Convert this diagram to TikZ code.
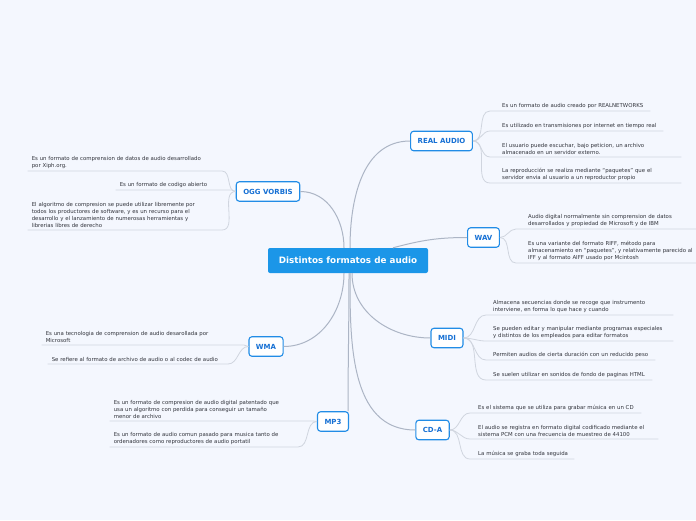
\documentclass[tikz,border=0pt]{standalone}
\usepackage{fontspec}
\setmainfont{DejaVu Sans}
\usepackage{tikz}
\usetikzlibrary{positioning,calc}
\definecolor{mmbg}{RGB}{244,247,254}
\definecolor{mmblue}{RGB}{27,150,232}
\definecolor{mmborder}{RGB}{33,140,230}
\definecolor{mmtext}{RGB}{22,112,212}
\definecolor{mmline}{RGB}{172,181,197}
\definecolor{mmleafline}{RGB}{208,213,223}
\definecolor{mmgray}{RGB}{50,52,60}
\tikzset{
  root/.style={rectangle,rounded corners=2pt,fill=mmblue,text=white,
    font=\fontsize{8.8}{9}\selectfont\bfseries,minimum width=160pt,minimum height=25pt},
  topic/.style={rectangle,rounded corners=3pt,draw=mmborder,line width=1.1pt,fill=white,
    text=mmtext,font=\fontsize{7}{7}\selectfont\bfseries,minimum height=19.5pt,inner xsep=7pt},
  leaf/.style={font=\fontsize{5.4}{7}\selectfont,text=mmgray,align=left,
    inner xsep=4pt,inner ysep=2.6pt},
  rleaf/.style={leaf,anchor=south west},
  lleaf/.style={leaf,anchor=south east},
  branch/.style={draw=mmline,line width=1pt},
  twig/.style={draw=mmleafline,line width=0.8pt},
}
\begin{document}
\begin{tikzpicture}[x=1pt,y=-1pt]
  \fill[mmbg] (0,0) rectangle (696,520);
  \useasboundingbox (0,0) rectangle (696,520);
  % centre and main topics
  \node[root] (root) at (348,260.5) {Distintos formatos de audio};
  \node[topic] (ra) at (441.5,141) {REAL AUDIO};
  \node[topic] (ogg) at (268,191.5) {OGG VORBIS};
  \node[topic] (wav) at (483.5,237.5) {WAV};
  \node[topic] (midi) at (447,338) {MIDI};
  \node[topic] (wma) at (266,346.5) {WMA};
  \node[topic] (mp3) at (333,421.5) {MP3};
  \node[topic] (cda) at (432.5,430) {CD-A};
  \draw[branch] ([xshift=2pt]root.north) to[out=90,in=180] (ra.west);
  \draw[branch] ([xshift=-4pt]root.north) to[out=90,in=0] (ogg.east);
  \draw[branch] ([xshift=45pt]root.north) to[out=15,in=180] (wav.west);
  \draw[branch] ([xshift=-4pt]root.south) to[out=-90,in=0] (wma.east);
  \draw[branch] ([xshift=1pt]root.south) to[out=-90,in=90] ([xshift=-1pt]mp3.north east);
  \draw[branch] ([xshift=4pt]root.south) to[out=-90,in=180] (midi.west);
  \draw[branch] ([xshift=2pt]root.south) to[out=-90,in=180] (cda.west);
  % REAL AUDIO
  \node[rleaf,text width=144pt] (ra1) at (498,111) {Es un formato de audio creado por REALNETWORKS};
  \node[rleaf,text width=157pt] (ra2) at (498,131) {Es utilizado en transmisiones por internet en tiempo real};
  \node[rleaf,text width=175pt] (ra3) at (498,157) {El usuario puede escuchar, bajo peticion, un archivo\\almacenado en un servidor externo.};
  \node[rleaf,text width=175pt] (ra4) at (498,183) {La reproducción se realiza mediante ``paquetes'' que el\\servidor envia al usuario a un reproductor propio};
  \foreach \n in {ra1,ra2,ra3,ra4}
    \draw[twig] (ra.east) to[out=0,in=180] ([xshift=-8pt]\n.south west) -- (\n.south east);
  % OGG VORBIS
  \node[lleaf,text width=186pt] (ogg1) at (222,171) {Es un formato de comprension de datos de audio desarrollado\\por Xiph.org.};
  \node[lleaf,text width=108pt] (ogg2) at (232,190) {Es un formato de codigo abierto};
  \node[lleaf,text width=186pt] (ogg3) at (222,230) {El algoritmo de compresion se puede utilizar libremente por\\todos los productores de software, y es un recurso para el\\desarrollo y el lanzamiento de numerosas herramientas y\\librerias libres de derecho};
  \foreach \n in {ogg1,ogg2,ogg3}
    \draw[twig] (ogg.west) to[out=180,in=0] (\n.south east) -- (\n.south west);
  % WAV
  \node[rleaf,text width=168pt] (wav1) at (524,229) {Audio digital normalmente sin comprension de datos\\desarrollados y propiedad de Microsoft y de IBM};
  \node[rleaf,text width=168pt] (wav2) at (524,263) {Es una variante del formato RIFF, método para\\almacenamiento en ``paquetes'', y relativamente parecido al\\IFF y al formato AIFF usado por Mcintosh};
  \foreach \n in {wav1,wav2}
    \draw[twig] (wav.east) to[out=0,in=180] ([xshift=-8pt]\n.south west) -- (\n.south east);
  % MIDI
  \node[rleaf,text width=176pt] (midi1) at (489,315) {Almacena secuencias donde se recoge que instrumento\\interviene, en forma lo que hace y cuando};
  \node[rleaf,text width=176pt] (midi2) at (489,341) {Se pueden editar y manipular mediante programas especiales\\y distintos de los empleados para editar formatos};
  \node[rleaf,text width=158pt] (midi3) at (489,360) {Permiten audios de cierta duración con un reducido peso};
  \node[rleaf,text width=155pt] (midi4) at (489,380) {Se suelen utilizar en sonidos de fondo de paginas HTML};
  \foreach \n in {midi1,midi2,midi3,midi4}
    \draw[twig] (midi.east) to[out=0,in=180] ([xshift=-3pt]\n.south west) -- (\n.south east);
  % WMA
  \node[lleaf,text width=194pt] (wma1) at (244,345) {Es una tecnologia de comprension de audio desarollada por\\Microsoft};
  \node[lleaf,text width=172pt] (wma2) at (228,364) {Se refiere al formato de archivo de audio o al codec de audio};
  \foreach \n in {wma1,wma2}
    \draw[twig] (wma.west) to[out=180,in=0] (\n.south east) -- (\n.south west);
  % MP3
  \node[lleaf,text width=195pt] (mp31) at (313,421) {Es un formato de compresion de audio digital patentado que\\usa un algoritmo con perdida para conseguir un tamaño\\menor de archivo};
  \node[lleaf,text width=180pt] (mp32) at (298,447) {Es un formato de audio comun pasado para musica tanto de\\ordenadores como reproductores de audio portatil};
  \foreach \n in {mp31,mp32}
    \draw[twig] (mp3.west) to[out=180,in=0] (\n.south east) -- (\n.south west);
  % CD-A
  \node[rleaf,text width=159pt] (cda1) at (474,413) {Es el sistema que se utiliza para grabar música en un CD};
  \node[rleaf,text width=176pt] (cda2) at (474,439) {El audio se registra en formato digital codificado mediante el\\sistema PCM con una frecuencia de muestreo de 44100};
  \node[rleaf,text width=92pt] (cda3) at (474,459) {La música se graba toda seguida};
  \foreach \n in {cda1,cda2,cda3}
    \draw[twig] (cda.east) to[out=0,in=180] ([xshift=-4pt]\n.south west) -- (\n.south east);
\end{tikzpicture}
\end{document}
